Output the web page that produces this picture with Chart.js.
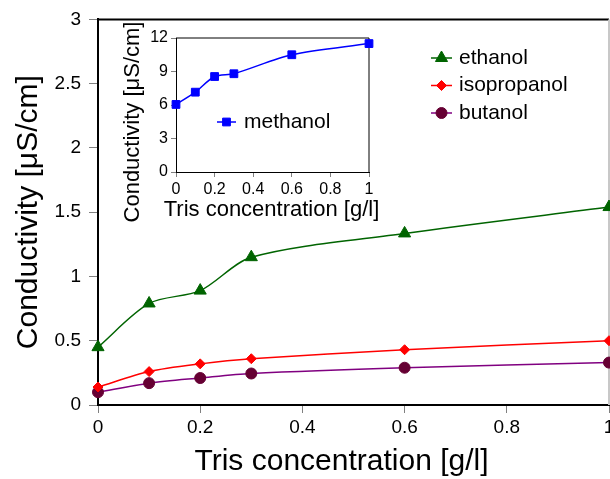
<!DOCTYPE html>
<html>
<head>
<meta charset="utf-8">
<script src="https://cdn.jsdelivr.net/npm/chart.js@4.4.1/dist/chart.umd.min.js"></script>
<style>
  html, body { margin: 0; padding: 0; background: #fff; overflow: hidden; }
  #wrap { position: relative; width: 610px; height: 479px; overflow: hidden; }
  #main { position: absolute; left: 0; top: 0; }
  #inset { position: absolute; left: 100px; top: 15px; }
</style>
</head>
<body>
<div id="wrap">
  <canvas id="main" width="640" height="479"></canvas>
  <canvas id="inset" width="300" height="210"></canvas>
</div>
<script>
// Tris concentration (g/l), same for every series
const tris = [0, 0.1, 0.2, 0.3, 0.6, 1];

// conductivity, µS/cm
const ethanol = [0.45, 0.79, 0.89, 1.15, 1.335, 1.54];
const isopropanol = [0.14, 0.26, 0.32, 0.36, 0.43, 0.50];
const butanol = [0.10, 0.17, 0.21, 0.245, 0.29, 0.33];
const methanol = [6.05, 7.15, 8.55, 8.8, 10.5, 11.5];

const yTitle = 'Conductivity [μS/cm]';
const xTitle = 'Tris concentration [g/l]';
const fontFamily = '"Liberation Sans", Arial, sans-serif';

function points(ys) {
    return tris.map((x, i) => ({ x: x, y: ys[i] }));
}

function series(label, ys, lineColor, markColor, style, radius) {
    return {
        label: label,
        data: points(ys),
        borderColor: lineColor,
        borderWidth: 1.5,
        tension: 0.3,
        pointStyle: style,
        pointRadius: radius,
        pointBackgroundColor: markColor,
        pointBorderColor: markColor,
        pointBorderWidth: 1,
        clip: false
    };
}

// top and right edges of the plot box
const frame = {
    id: 'frame',
    beforeDatasetsDraw(chart, args, opts) {
        const a = chart.chartArea;
        const ctx = chart.ctx;
        ctx.save();
        ctx.lineWidth = opts.width;
        ctx.strokeStyle = opts.color;
        ctx.beginPath();
        ctx.moveTo(a.left, a.top);
        ctx.lineTo(a.right, a.top);
        ctx.stroke();
        ctx.strokeStyle = opts.rightColor || opts.color;
        ctx.beginPath();
        ctx.moveTo(a.right, a.top);
        ctx.lineTo(a.right, a.bottom);
        ctx.stroke();
        ctx.restore();
    }
};

// axis titles, placed off the plot centre by a small shift
const axisTitles = {
    id: 'axisTitles',
    afterDraw(chart, args, opts) {
        const a = chart.chartArea;
        const ctx = chart.ctx;
        ctx.save();
        ctx.fillStyle = '#000';
        ctx.font = opts.size + 'px ' + fontFamily;
        ctx.textAlign = 'center';
        ctx.textBaseline = 'middle';
        ctx.fillText(opts.x.text, (a.left + a.right) / 2 + opts.x.shift, opts.x.pos);
        ctx.translate(opts.y.pos, (a.top + a.bottom) / 2 + opts.y.shift);
        ctx.rotate(-Math.PI / 2);
        ctx.fillText(opts.y.text, 0, 0);
        ctx.restore();
    }
};

// legend with a line sample and a marker for each series
const lineLegend = {
    id: 'lineLegend',
    afterDraw(chart, args, opts) {
        const ctx = chart.ctx;
        ctx.save();
        ctx.font = opts.size + 'px ' + fontFamily;
        ctx.textBaseline = 'middle';
        chart.data.datasets.forEach((ds, i) => {
            const y = opts.y + i * opts.gap;
            ctx.strokeStyle = ds.borderColor;
            ctx.lineWidth = ds.borderWidth;
            ctx.beginPath();
            ctx.moveTo(opts.x, y);
            ctx.lineTo(opts.x + opts.lineLen, y);
            ctx.stroke();
            ctx.fillStyle = ds.pointBackgroundColor;
            ctx.strokeStyle = ds.pointBorderColor;
            ctx.lineWidth = 1;
            Chart.helpers.drawPoint(ctx, {
                pointStyle: ds.pointStyle,
                radius: ds.pointRadius,
                borderWidth: 1,
                rotation: 0
            }, opts.x + opts.lineLen / 2, y);
            ctx.fillStyle = '#000';
            ctx.fillText(ds.label, opts.x + opts.lineLen + opts.textGap, y);
        });
        ctx.restore();
    }
};

function axis(cfg) {
    return {
        type: 'linear',
        min: cfg.min,
        max: cfg.max,
        ticks: {
            stepSize: cfg.step,
            color: '#000',
            padding: cfg.padding,
            font: { family: fontFamily, size: cfg.tickSize },
            callback: v => String(+v.toFixed(2))
        },
        grid: {
            drawOnChartArea: false,
            drawTicks: true,
            tickLength: cfg.tickLength,
            tickColor: '#808080',
            tickWidth: 1
        },
        border: { display: true, color: '#000', width: cfg.borderWidth },
        afterFit: cfg.afterFit
    };
}

// main chart
new Chart(document.getElementById('main'), {
    type: 'line',
    data: {
        datasets: [
            series('ethanol', ethanol, '#006400', '#006400', 'triangle', 7),
            series('isopropanol', isopropanol, '#ff0000', '#ff0000', 'rectRot', 5),
            series('butanol', butanol, '#800080', '#660033', 'circle', 5.5)
        ]
    },
    options: {
        responsive: false,
        animation: false,
        devicePixelRatio: 1,
        layout: { padding: { top: 17, right: 31, left: 0, bottom: 0 } },
        plugins: {
            legend: { display: false },
            tooltip: { enabled: false },
            frame: { width: 2, color: '#000', rightColor: '#c8c8c8' },
            axisTitles: {
                size: 30,
                x: { text: xTitle, shift: -12, pos: 462 },
                y: { text: yTitle, shift: 0, pos: 29 }
            },
            lineLegend: { x: 431, y: 58, gap: 27.5, lineLen: 21, textGap: 7, size: 21 }
        },
        scales: {
            x: axis({
                min: 0, max: 1, step: 0.2, padding: 3, tickSize: 19, tickLength: 8,
                borderWidth: 2, afterFit: s => { s.height = 74; }
            }),
            y: axis({
                min: 0, max: 3, step: 0.5, padding: 8, tickSize: 19, tickLength: 9,
                borderWidth: 2, afterFit: s => { s.width = 98; }
            })
        }
    },
    plugins: [frame, axisTitles, lineLegend]
});

// inset: methanol
new Chart(document.getElementById('inset'), {
    type: 'line',
    data: {
        datasets: [
            series('methanol', methanol, '#0000ff', '#0000ff', 'rect', 5.5)
        ]
    },
    options: {
        responsive: false,
        animation: false,
        devicePixelRatio: 1,
        layout: { padding: { top: 23, right: 31, left: 0, bottom: 0 } },
        plugins: {
            legend: { display: false },
            tooltip: { enabled: false },
            frame: { width: 1, color: '#000' },
            axisTitles: {
                size: 22,
                x: { text: xTitle, shift: -1, pos: 195 },
                y: { text: yTitle, shift: 17, pos: 33 }
            },
            lineLegend: { x: 117, y: 107, gap: 0, lineLen: 19, textGap: 8, size: 21 }
        },
        scales: {
            x: axis({
                min: 0, max: 1, step: 0.2, padding: 3, tickSize: 16, tickLength: 5,
                borderWidth: 1, afterFit: s => { s.height = 53; }
            }),
            y: axis({
                min: 0, max: 12, step: 3, padding: 3, tickSize: 16, tickLength: 5,
                borderWidth: 1, afterFit: s => { s.width = 76; }
            })
        }
    },
    plugins: [frame, axisTitles, lineLegend]
});
</script>
</body>
</html>
